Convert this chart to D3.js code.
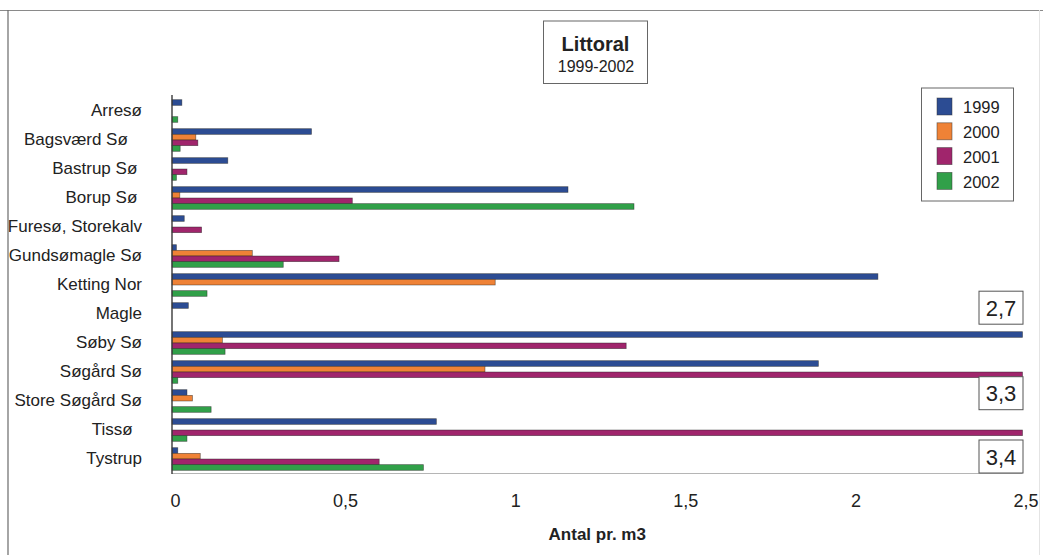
<!DOCTYPE html>
<html>
<head>
<meta charset="utf-8">
<script src="https://cdn.jsdelivr.net/npm/d3@7"></script>
<style>
  html, body { margin: 0; padding: 0; background: #fff; }
  svg { display: block; font-family: "Liberation Sans", Arial, Helvetica, sans-serif; }
  text { white-space: pre; }
</style>
</head>
<body>
<svg id="chart" width="1043" height="555"></svg>
<script>
// Lakes (categories), top to bottom
const lakes = ["Arresø", "Bagsværd Sø   ", "Bastrup Sø ", "Borup Sø ", "Furesø, Storekalv",
  "Gundsømagle Sø", "Ketting Nor", "Magle", "Søby Sø", "Søgård Sø",
  "Store Søgård Sø", "Tissø  ", "Tystrup"];
const years = ["1999", "2000", "2001", "2002"];

// Individuals per m3, one array per year (same order as lakes)
const v1999 = [0.029, 0.41, 0.164, 1.164, 0.036, 0.013, 2.075, 0.048, 2.7, 1.90, 0.044, 0.777, 0.017];
const v2000 = [0, 0.07, 0, 0.023, 0, 0.236, 0.95, 0, 0.148, 0.92, 0.06, 0, 0.083];
const v2001 = [0, 0.076, 0.044, 0.53, 0.087, 0.491, 0, 0, 1.335, 3.3, 0, 3.4, 0.609];
const v2002 = [0.017, 0.024, 0.013, 1.358, 0, 0.327, 0.103, 0, 0.156, 0.017, 0.115, 0.044, 0.739];

const xTicks = [0, 0.5, 1, 1.5, 2, 2.5];
const tickLabels = ["0", "0,5", "1", "1,5", "2", "2,5"];

const seriesValues = [v1999, v2000, v2001, v2002];
const colors = ["#2c4c93", "#ef8236", "#a0256c", "#31a049"];

// Vertical placement of the boxed value notes for bars running past the axis end
const notePlacement = { "Søby Sø": -40.5, "Søgård Sø": 4.7, "Tissø  ": 10 };

const svg = d3.select("#chart");

const x = d3.scaleLinear().domain([0, 2.5]).range([172, 1022.5]).clamp(true);
const y = d3.scaleBand().domain(lakes).range([96.5, 473.5]).paddingInner(0.22).paddingOuter(0.11);
const sub = d3.scaleBand().domain(years).range([0, y.bandwidth()]);
const color = d3.scaleOrdinal().domain(years).range(colors);

// Outer frame
svg.append("line").attr("x1", 0).attr("x2", 1043).attr("y1", 10.5).attr("y2", 10.5)
  .attr("stroke", "#8a8a8a").attr("stroke-width", 1);
svg.append("line").attr("x1", 8).attr("x2", 8).attr("y1", 10).attr("y2", 555)
  .attr("stroke", "#6a6a6a").attr("stroke-width", 1.2);
svg.append("line").attr("x1", 1039.5).attr("x2", 1039.5).attr("y1", 10).attr("y2", 555)
  .attr("stroke", "#e4e4e4").attr("stroke-width", 1);

// Flattened bar records
const bars = [];
lakes.forEach((lake, i) => {
  years.forEach((yr, j) => {
    bars.push({ lake, year: yr, value: seriesValues[j][i] });
  });
});

// Bars
svg.append("g").selectAll("rect")
  .data(bars.filter(d => d.value > 0))
  .join("rect")
  .attr("x", x(0))
  .attr("y", d => y(d.lake) + sub(d.year))
  .attr("width", d => x(d.value) - x(0))
  .attr("height", sub.bandwidth())
  .attr("fill", d => color(d.year))
  .attr("stroke", "#222")
  .attr("stroke-opacity", 0.6)
  .attr("stroke-width", 0.7);

// Axes lines
svg.append("line").attr("x1", x(0)).attr("x2", x(2.5)).attr("y1", 473.5).attr("y2", 473.5)
  .attr("stroke", "#b5b5b5").attr("stroke-width", 1.2);
svg.append("line").attr("x1", x(0)).attr("x2", x(0)).attr("y1", 95).attr("y2", 474)
  .attr("stroke", "#3a3a3a").attr("stroke-width", 1.4);

// Category labels
const yAxis = d3.axisLeft(y).tickSize(0).tickPadding(30);
const yg = svg.append("g").attr("transform", `translate(${x(0)},0)`).call(yAxis);
yg.select(".domain").remove();
yg.selectAll("text").attr("font-size", 17).attr("fill", "#222")
  .attr("font-family", "'Liberation Sans', Arial, sans-serif");

// Value axis labels
const xAxis = d3.axisBottom(x).tickValues(xTicks).tickSize(0).tickPadding(21)
  .tickFormat((d, i) => tickLabels[i]);
const xg = svg.append("g").attr("transform", `translate(3,473.5)`).call(xAxis);
xg.select(".domain").remove();
xg.selectAll("text").attr("font-size", 18).attr("fill", "#222")
  .attr("font-family", "'Liberation Sans', Arial, sans-serif");

svg.append("text").attr("x", (x(0) + x(2.5)) / 2).attr("y", 540)
  .attr("text-anchor", "middle").attr("font-size", 17).attr("font-weight", "bold")
  .attr("fill", "#222").text("Antal pr. m3");

// Title box
svg.append("rect").attr("x", 543.5).attr("y", 21).attr("width", 104).attr("height", 62.5)
  .attr("fill", "#fff").attr("stroke", "#666").attr("stroke-width", 1);
svg.append("text").attr("x", 595.5).attr("y", 50.5).attr("text-anchor", "middle")
  .attr("font-size", 20).attr("font-weight", "bold").attr("fill", "#222").text("Littoral");
svg.append("text").attr("x", 596).attr("y", 71.5).attr("text-anchor", "middle")
  .attr("font-size", 16).attr("fill", "#222").text("1999-2002");

// Legend
const lg = svg.append("g");
lg.append("rect").attr("x", 921.5).attr("y", 88).attr("width", 92).attr("height", 113)
  .attr("fill", "#fff").attr("stroke", "#666").attr("stroke-width", 1);
years.forEach((yr, i) => {
  lg.append("rect").attr("x", 937).attr("y", 98 + i * 24.8).attr("width", 15).attr("height", 17)
    .attr("fill", color(yr)).attr("stroke", "#333").attr("stroke-opacity", 0.6).attr("stroke-width", 0.8);
  lg.append("text").attr("x", 963).attr("y", 113.3 + i * 24.8)
    .attr("font-size", 16.5).attr("fill", "#222").text(yr);
});

// Boxed value notes for bars that run beyond the axis end
const fmt = v => String(v).replace(".", ",");
const overflow = bars.filter(d => d.value > x.domain()[1]);
const notes = svg.append("g").selectAll("g").data(overflow).join("g")
  .attr("transform", d => `translate(${x(2.5) - 43.5},${y(d.lake) + sub(d.year) + notePlacement[d.lake]})`);
notes.append("rect").attr("width", 44).attr("height", 33)
  .attr("fill", "#fff").attr("stroke", "#555").attr("stroke-width", 1);
notes.append("text").attr("x", 22).attr("y", 24.5).attr("text-anchor", "middle")
  .attr("font-size", 22).attr("fill", "#222").text(d => fmt(d.value));
</script>
</body>
</html>
